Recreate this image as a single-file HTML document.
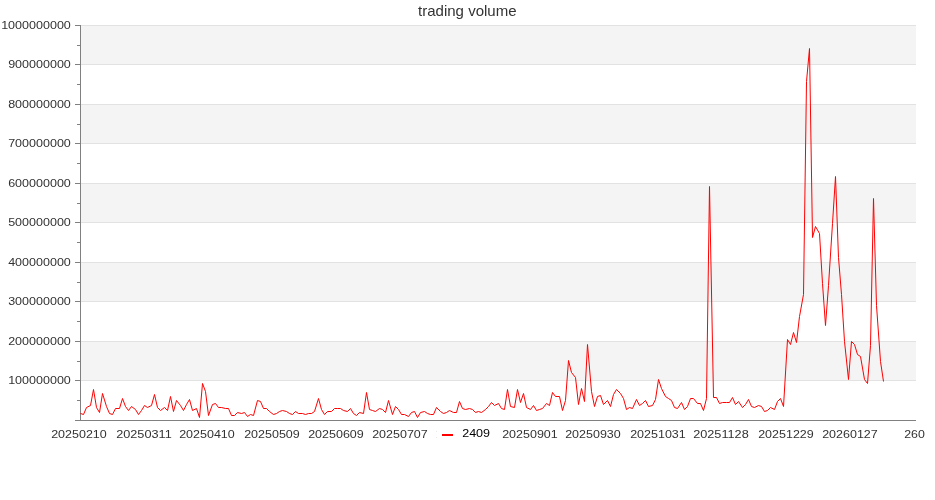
<!DOCTYPE html>
<html><head><meta charset="utf-8"><title>trading volume</title>
<style>html,body{margin:0;padding:0;background:#fff;}body{width:935px;height:500px;overflow:hidden;}svg{display:block;will-change:transform;}g.t{filter:grayscale(1);}text{font-family:"Liberation Sans",sans-serif;}</style></head><body>
<svg width="935" height="500" viewBox="0 0 935 500">
<rect x="0" y="0" width="935" height="500" fill="#ffffff"/>
<rect x="81" y="25" width="835" height="39" fill="#f4f4f4"/>
<rect x="81" y="104" width="835" height="39" fill="#f4f4f4"/>
<rect x="81" y="183" width="835" height="39" fill="#f4f4f4"/>
<rect x="81" y="262" width="835" height="39" fill="#f4f4f4"/>
<rect x="81" y="341" width="835" height="39" fill="#f4f4f4"/>
<rect x="81" y="25" width="835" height="1" fill="#e2e2e2"/>
<rect x="81" y="64" width="835" height="1" fill="#e2e2e2"/>
<rect x="81" y="104" width="835" height="1" fill="#e2e2e2"/>
<rect x="81" y="143" width="835" height="1" fill="#e2e2e2"/>
<rect x="81" y="183" width="835" height="1" fill="#e2e2e2"/>
<rect x="81" y="222" width="835" height="1" fill="#e2e2e2"/>
<rect x="81" y="262" width="835" height="1" fill="#e2e2e2"/>
<rect x="81" y="301" width="835" height="1" fill="#e2e2e2"/>
<rect x="81" y="341" width="835" height="1" fill="#e2e2e2"/>
<rect x="81" y="380" width="835" height="1" fill="#e2e2e2"/>
<rect x="80" y="25" width="1" height="396" fill="#808080"/>
<rect x="75" y="420" width="841" height="1" fill="#808080"/>
<rect x="75" y="25" width="5" height="1" fill="#808080"/>
<rect x="75" y="64" width="5" height="1" fill="#808080"/>
<rect x="75" y="104" width="5" height="1" fill="#808080"/>
<rect x="75" y="143" width="5" height="1" fill="#808080"/>
<rect x="75" y="183" width="5" height="1" fill="#808080"/>
<rect x="75" y="222" width="5" height="1" fill="#808080"/>
<rect x="75" y="262" width="5" height="1" fill="#808080"/>
<rect x="75" y="301" width="5" height="1" fill="#808080"/>
<rect x="75" y="341" width="5" height="1" fill="#808080"/>
<rect x="75" y="380" width="5" height="1" fill="#808080"/>
<rect x="77" y="45" width="3" height="1" fill="#808080"/>
<rect x="77" y="84" width="3" height="1" fill="#808080"/>
<rect x="77" y="124" width="3" height="1" fill="#808080"/>
<rect x="77" y="163" width="3" height="1" fill="#808080"/>
<rect x="77" y="203" width="3" height="1" fill="#808080"/>
<rect x="77" y="242" width="3" height="1" fill="#808080"/>
<rect x="77" y="282" width="3" height="1" fill="#808080"/>
<rect x="77" y="321" width="3" height="1" fill="#808080"/>
<rect x="77" y="361" width="3" height="1" fill="#808080"/>
<rect x="77" y="400" width="3" height="1" fill="#808080"/>
<g class="t">
<text x="418.0" y="16" font-size="15" fill="#333333" textLength="98.6" lengthAdjust="spacingAndGlyphs">trading volume</text>
<text x="1.15" y="28.5" font-size="11.6" fill="#333333" textLength="69.7" lengthAdjust="spacingAndGlyphs">1000000000</text>
<text x="8.15" y="67.5" font-size="11.6" fill="#333333" textLength="62.7" lengthAdjust="spacingAndGlyphs">900000000</text>
<text x="8.15" y="107.5" font-size="11.6" fill="#333333" textLength="62.7" lengthAdjust="spacingAndGlyphs">800000000</text>
<text x="8.15" y="146.5" font-size="11.6" fill="#333333" textLength="62.7" lengthAdjust="spacingAndGlyphs">700000000</text>
<text x="8.15" y="186.5" font-size="11.6" fill="#333333" textLength="62.7" lengthAdjust="spacingAndGlyphs">600000000</text>
<text x="8.15" y="225.5" font-size="11.6" fill="#333333" textLength="62.7" lengthAdjust="spacingAndGlyphs">500000000</text>
<text x="8.15" y="265.5" font-size="11.6" fill="#333333" textLength="62.7" lengthAdjust="spacingAndGlyphs">400000000</text>
<text x="8.15" y="304.5" font-size="11.6" fill="#333333" textLength="62.7" lengthAdjust="spacingAndGlyphs">300000000</text>
<text x="8.15" y="344.5" font-size="11.6" fill="#333333" textLength="62.7" lengthAdjust="spacingAndGlyphs">200000000</text>
<text x="8.15" y="383.5" font-size="11.6" fill="#333333" textLength="62.7" lengthAdjust="spacingAndGlyphs">100000000</text>
<text x="51.17" y="438" font-size="11.6" fill="#333333" textLength="55.6" lengthAdjust="spacingAndGlyphs">20250210</text>
<text x="116.17" y="438" font-size="11.6" fill="#333333" textLength="55.6" lengthAdjust="spacingAndGlyphs">20250311</text>
<text x="179.17" y="438" font-size="11.6" fill="#333333" textLength="55.6" lengthAdjust="spacingAndGlyphs">20250410</text>
<text x="244.17" y="438" font-size="11.6" fill="#333333" textLength="55.6" lengthAdjust="spacingAndGlyphs">20250509</text>
<text x="308.17" y="438" font-size="11.6" fill="#333333" textLength="55.6" lengthAdjust="spacingAndGlyphs">20250609</text>
<text x="372.17" y="438" font-size="11.6" fill="#333333" textLength="55.6" lengthAdjust="spacingAndGlyphs">20250707</text>
<text x="502.17" y="438" font-size="11.6" fill="#333333" textLength="55.6" lengthAdjust="spacingAndGlyphs">20250901</text>
<text x="565.17" y="438" font-size="11.6" fill="#333333" textLength="55.6" lengthAdjust="spacingAndGlyphs">20250930</text>
<text x="630.17" y="438" font-size="11.6" fill="#333333" textLength="55.6" lengthAdjust="spacingAndGlyphs">20251031</text>
<text x="693.17" y="438" font-size="11.6" fill="#333333" textLength="55.6" lengthAdjust="spacingAndGlyphs">20251128</text>
<text x="758.17" y="438" font-size="11.6" fill="#333333" textLength="55.6" lengthAdjust="spacingAndGlyphs">20251229</text>
<text x="822.17" y="438" font-size="11.6" fill="#333333" textLength="55.6" lengthAdjust="spacingAndGlyphs">20260127</text>
<text x="904.17" y="438" font-size="11.6" fill="#333333" textLength="20.6" lengthAdjust="spacingAndGlyphs">260</text>
<rect x="436" y="431" width="1" height="1" fill="#e8e8e8"/><rect x="436" y="437" width="1" height="1" fill="#e8e8e8"/>
<text x="462.17" y="437" font-size="11.6" fill="#000000" textLength="27.9" lengthAdjust="spacingAndGlyphs">2409</text>
</g>
<rect x="442" y="434" width="11" height="2" fill="#ff0000"/>
<polyline fill="none" stroke="#ff0000" stroke-width="1" stroke-linejoin="round" stroke-linecap="butt" points="80.5,413.5 83.5,414.5 86.5,407.5 90.5,405.5 93.5,389.5 96.5,407.5 99.5,412.5 102.5,393.5 106.5,406.5 109.5,413.5 112.5,414.5 115.5,408.5 119.5,408.5 122.5,398.5 125.5,406.5 128.5,410.5 131.5,406.5 135.5,409.5 138.5,414.5 141.5,410.5 144.5,405.5 147.5,407.5 151.5,405.5 154.5,394.5 157.5,407.5 160.5,410.5 164.5,407.5 167.5,410.5 170.5,396.5 173.5,411.5 176.5,400.5 180.5,405.5 183.5,410.5 186.5,404.5 189.5,399.5 192.5,410.5 196.5,408.5 199.5,417.5 202.5,383.5 205.5,391.5 208.5,415.5 212.5,404.5 215.5,403.5 218.5,407.5 221.5,407.5 225.5,408.5 228.5,408.5 231.5,415.5 234.5,415.5 237.5,412.5 241.5,413.5 244.5,412.5 247.5,416.5 250.5,414.5 253.5,415.5 257.5,400.5 260.5,401.5 263.5,408.5 266.5,408.5 269.5,411.5 273.5,414.5 276.5,413.5 279.5,411.5 282.5,410.5 286.5,411.5 289.5,413.5 292.5,414.5 295.5,411.5 298.5,413.5 302.5,413.5 305.5,414.5 308.5,413.5 311.5,413.5 314.5,411.5 318.5,398.5 321.5,409.5 324.5,414.5 327.5,411.5 331.5,411.5 334.5,408.5 337.5,408.5 340.5,408.5 343.5,410.5 347.5,411.5 350.5,408.5 353.5,413.5 356.5,415.5 359.5,412.5 363.5,413.5 366.5,392.5 369.5,409.5 372.5,410.5 375.5,411.5 379.5,408.5 382.5,409.5 385.5,412.5 388.5,400.5 392.5,414.5 395.5,406.5 398.5,409.5 401.5,414.5 404.5,414.5 408.5,416.5 411.5,412.5 414.5,411.5 417.5,417.5 420.5,412.5 424.5,411.5 427.5,413.5 430.5,414.5 433.5,414.5 436.5,407.5 440.5,411.5 443.5,413.5 446.5,412.5 449.5,410.5 453.5,412.5 456.5,412.5 459.5,401.5 462.5,408.5 465.5,409.5 469.5,408.5 472.5,409.5 475.5,412.5 478.5,411.5 481.5,412.5 485.5,409.5 488.5,406.5 491.5,402.5 494.5,405.5 498.5,403.5 501.5,408.5 504.5,409.5 507.5,389.5 510.5,406.5 514.5,407.5 517.5,389.5 520.5,402.5 523.5,393.5 526.5,407.5 530.5,409.5 533.5,405.5 536.5,410.5 539.5,409.5 542.5,408.5 546.5,403.5 549.5,405.5 552.5,392.5 555.5,396.5 559.5,396.5 562.5,410.5 565.5,400.5 568.5,360.5 571.5,372.5 575.5,377.5 578.5,404.5 581.5,388.5 584.5,401.5 587.5,344.5 591.5,391.5 594.5,406.5 597.5,396.5 600.5,395.5 603.5,404.5 607.5,400.5 610.5,406.5 613.5,394.5 616.5,389.5 620.5,393.5 623.5,398.5 626.5,409.5 629.5,407.5 632.5,408.5 636.5,399.5 639.5,405.5 642.5,403.5 645.5,400.5 648.5,406.5 652.5,405.5 655.5,399.5 658.5,379.5 661.5,388.5 665.5,396.5 668.5,398.5 671.5,400.5 674.5,407.5 677.5,408.5 681.5,402.5 684.5,409.5 687.5,406.5 690.5,398.5 693.5,398.5 697.5,403.5 700.5,403.5 703.5,410.5 706.5,398.5 709.5,186.5 713.5,397.5 716.5,397.5 719.5,403.5 722.5,402.5 726.5,402.5 729.5,402.5 732.5,397.5 735.5,404.5 738.5,401.5 742.5,407.5 745.5,404.5 748.5,399.5 751.5,406.5 754.5,407.5 758.5,405.5 761.5,406.5 764.5,411.5 767.5,410.5 770.5,407.5 774.5,409.5 777.5,401.5 780.5,398.5 783.5,406.5 787.5,339.5 790.5,344.5 793.5,332.5 796.5,342.5 799.5,316.5 803.5,294.5 806.5,81.5 809.5,48.5 812.5,237.5 815.5,226.5 819.5,233.5 822.5,283.5 825.5,325.5 828.5,285.5 832.5,223.5 835.5,176.5 838.5,257.5 841.5,294.5 844.5,341.5 848.5,379.5 851.5,341.5 854.5,344.5 857.5,354.5 860.5,356.5 864.5,379.5 867.5,383.5 870.5,345.5 873.5,198.5 876.5,305.5 880.5,361.5 883.5,381.5"/>
</svg></body></html>
